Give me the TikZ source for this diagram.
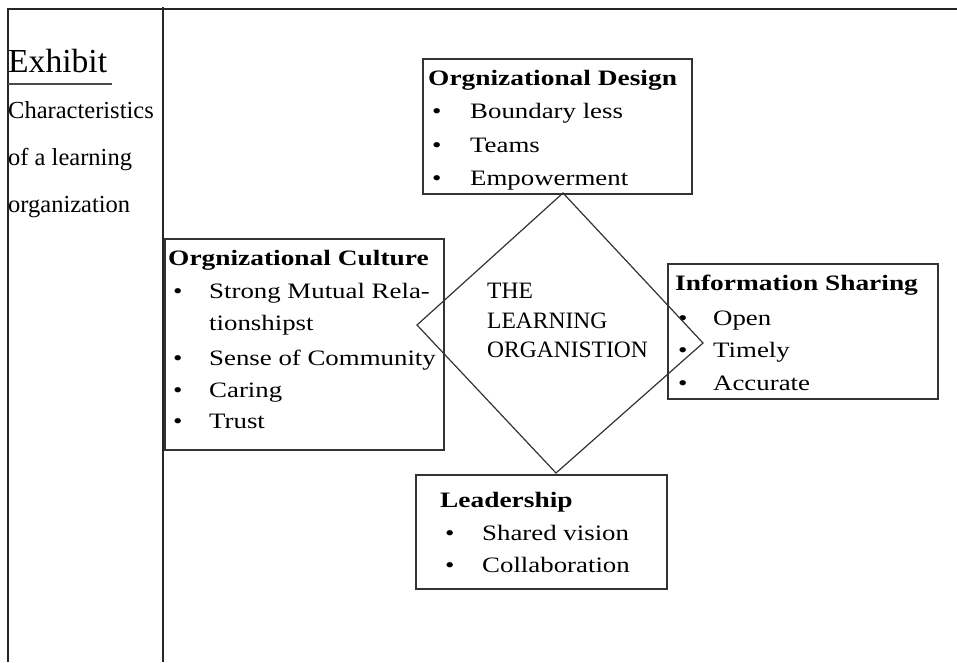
\documentclass[tikz,border=0pt]{standalone}
\usepackage{fontspec}
\setmainfont{Liberation Serif}
\newfontfamily\widefont[FakeStretch=1.22]{Liberation Serif}
\newfontfamily\widebf[FakeStretch=1.245]{Liberation Serif}
\newcommand\bulitem[2]{\makebox[#1][l]{\textbullet}#2}
\begin{document}
\begin{tikzpicture}[x=1pt,y=-1pt,
  frame/.style={line width=1.3pt, draw=black!85},
  box/.style={draw=black!80, line width=1.6pt, inner sep=0pt, anchor=north west},
  ttl/.style={font=\widebf\fontsize{22}{26}\selectfont\bfseries, anchor=base west, inner sep=0pt},
  itm/.style={font=\widefont\fontsize{22}{26}\selectfont, anchor=base west, inner sep=0pt},
  side/.style={font=\fontsize{24.5}{28}\selectfont, anchor=base west, inner sep=0pt},
  dia/.style={font=\fontsize{23.5}{28}\selectfont, anchor=base west, inner sep=0pt},
  diam/.style={draw=black!80, line width=1.2pt, line join=miter},
]
\useasboundingbox (0,0) rectangle (957,662);

% frame
\draw[frame] (8,662) -- (8,9) -- (957,9);
\draw[frame] (163,7) -- (163,662);

% side text
\node[side, font=\fontsize{33.6}{36}\selectfont] (exh) at (8,72) {Exhibit};
\draw[line width=2pt, black!70] (8,84) -- (112,84);
\node[side] (ch1) at (8,118) {Characteristics};
\node[side] (ch2) at (8,165) {of a learning};
\node[side] (ch3) at (8,212) {organization};

% boxes
\node[box, minimum width=269pt, minimum height=135pt] (design) at (422,58) {};
\node[box, minimum width=279pt, minimum height=211pt] (culture) at (164,238) {};
\node[box, minimum width=270pt, minimum height=135pt] (info) at (667,263) {};
\node[box, minimum width=251pt, minimum height=114pt] (lead) at (415,474) {};

% design text
\node[ttl] (designT) at (428,85) {Orgnizational Design};
\node[itm] (design1) at (432,118) {\bulitem{38pt}{Boundary less}};
\node[itm] (design2) at (432,152) {\bulitem{38pt}{Teams}};
\node[itm] (design3) at (432,185) {\bulitem{38pt}{Empowerment}};

% culture text
\node[ttl] (cultureT) at (168,265) {Orgnizational Culture};
\node[itm] (culture1) at (173,298) {\bulitem{36pt}{Strong Mutual Rela-}};
\node[itm] (culture1b) at (209,330) {tionshipst};
\node[itm] (culture2) at (173,365) {\bulitem{36pt}{Sense of Community}};
\node[itm] (culture3) at (173,397) {\bulitem{36pt}{Caring}};
\node[itm] (culture4) at (173,428) {\bulitem{36pt}{Trust}};

% info text
\node[ttl] (infoT) at (675,290) {Information Sharing};
\node[itm] (info1) at (678,325) {\bulitem{35pt}{Open}};
\node[itm] (info2) at (678,357) {\bulitem{35pt}{Timely}};
\node[itm] (info3) at (678,390) {\bulitem{35pt}{Accurate}};

% leadership text
\node[ttl] (leadT) at (440,507) {Leadership};
\node[itm] (lead1) at (445,540) {\bulitem{37pt}{Shared vision}};
\node[itm] (lead2) at (445,572) {\bulitem{37pt}{Collaboration}};

% diamond
\coordinate (dT) at (563,193);
\coordinate (dR) at (703,343);
\coordinate (dB) at (556,473);
\coordinate (dL) at (417,325);
\draw[diam] (dT) -- (dR) -- (dB) -- (dL) -- cycle;
\node[dia] (d1) at (487,298) {THE};
\node[dia] (d2) at (487,328) {LEARNING};
\node[dia] (d3) at (487,357) {ORGANISTION};
\end{tikzpicture}
\end{document}
